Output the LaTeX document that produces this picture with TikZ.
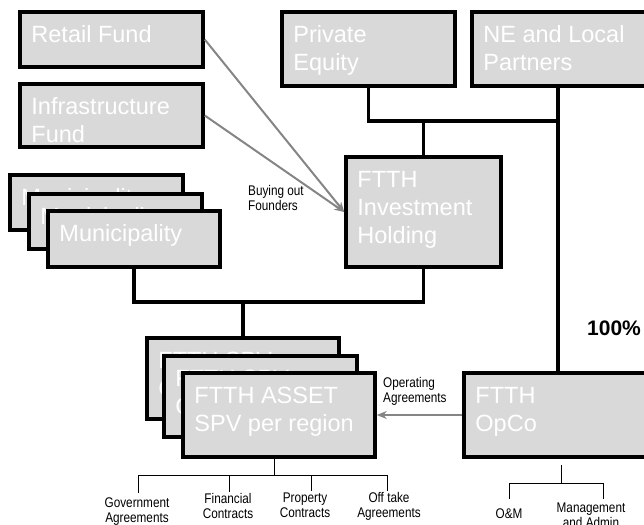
\documentclass[tikz,border=0pt]{standalone}
\usepackage{fontspec}
\setmainfont{Liberation Sans}
\newfontfamily\narrowfont[FakeStretch=0.84]{Liberation Sans}
\usetikzlibrary{fit,arrows.meta}
\definecolor{boxgray}{HTML}{D9D9D9}
\definecolor{arrgray}{HTML}{858585}
\tikzset{
  box/.style={draw=black, line width=3.5pt, fill=boxgray, inner sep=0pt},
  boxtext/.style={text=white, font=\fontsize{23.5}{28}\selectfont, align=left, inner sep=0pt, anchor=north west},
  conn/.style={line width=3.2pt},
  treeline/.style={line width=0.9pt},
  garrow/.style={draw=arrgray, line width=2pt, -{Stealth[length=10pt,width=8pt]}},
  small/.style={font=\narrowfont\fontsize{14}{15.5}\selectfont, inner sep=0pt},
}
\newcommand\mybx[6]{%
  \node[box, fit={(#2,#3) (#4,#5)}] (#1) {};
  \node[boxtext] (#1-t) at ([shift={(13,12)}]#1.north west) {\rule{0pt}{20pt}#6};}
\begin{document}
\begin{tikzpicture}[x=1pt,y=-1pt]
\useasboundingbox (0,0) rectangle (644,524);
\clip (0,0) rectangle (644,524);

% top boxes
\mybx{retail}{20}{12}{203}{67}{Retail Fund}
\mybx{infra}{20}{84}{203}{147}{Infrastructure\\Fund}
\mybx{pe}{282}{12}{455}{86}{Private\\Equity}
\mybx{ne}{472}{12}{652}{86}{NE and Local\\Partners}
\mybx{hold}{346}{157}{501}{267}{FTTH\\Investment\\Holding}

% municipality stack
\mybx{mun1}{10}{175}{183}{230}{Municipality}
\mybx{mun2}{29}{194}{202}{249}{Municipality}
\mybx{mun3}{48}{211}{220}{267}{Municipality}

% SPV stack
\mybx{spv1}{147}{338}{339}{419}{FTTH SPV\\City}
\mybx{spv2}{164}{356}{357}{437}{FTTH SPV\\City}
\mybx{spv3}{183}{373}{375}{457}{FTTH ASSET\\SPV per region}

% OpCo
\mybx{opco}{464}{373}{662}{457}{FTTH\\OpCo}

% thick connectors
\coordinate (nx) at (558,121);
\coordinate (jb) at (423,302);
\draw[conn] (pe.south) |- (nx);
\draw[conn] (hold.north) -- (hold.north |- nx);
\draw[conn] (nx |- ne.south) -- (nx |- opco.north);
\draw[conn] (hold.south) -- (hold.south |- jb) -| (mun3.south);
\draw[conn] (spv1.north) -- (spv1.north |- jb);

% gray arrows
\draw[garrow] (retail.east) -- (hold.west);
\draw[garrow] (infra.east) -- (hold.west);
\draw[garrow] (opco.west) -- (spv3.east);

% labels
\node[small, anchor=north west, align=left] (buy) at (248,184) {\rule{0pt}{11pt}Buying out\\Founders};
\node[small, anchor=north west, align=left] (opag) at (383,376) {\rule{0pt}{11pt}Operating\\Agreements};
\node[font=\bfseries\fontsize{21}{25}\selectfont, anchor=base west, inner sep=0pt] (pct) at (587,335) {100\%};

% SPV tree
\node[small, anchor=north, align=center] (gov) at (137,496) {\rule{0pt}{11pt}Government\\Agreements};
\node[small, anchor=north, align=center] (fin) at (228,492) {\rule{0pt}{11pt}Financial\\Contracts};
\node[small, anchor=north, align=center] (prop) at (305,491) {\rule{0pt}{11pt}Property\\Contracts};
\node[small, anchor=north, align=center] (off) at (389,491) {\rule{0pt}{11pt}Off take\\Agreements};
\coordinate (st) at (274,459);
\coordinate (sj) at (274,475);
\coordinate (s1) at (138,475);
\coordinate (s2) at (229,475);
\coordinate (s3) at (311,475);
\coordinate (s4) at (387,475);
\draw[treeline] (st) -- (sj);
\draw[treeline] (s1) -- (s4);
\draw[treeline] (s1) -- ++(0,18);
\draw[treeline] (s2) -- ++(0,17);
\draw[treeline] (s3) -- ++(0,16);
\draw[treeline] (s4) -- ++(0,16);

% OpCo tree
\node[small, anchor=north, align=center] (om) at (509,507) {\rule{0pt}{11pt}O\&M};
\node[small, anchor=north, align=center] (mgmt) at (591,501) {\rule{0pt}{11pt}Management\\and Admin};
\coordinate (ot) at (561,465);
\coordinate (oj) at (561,483);
\coordinate (o1) at (509,483);
\coordinate (o2) at (603,483);
\draw[treeline] (ot) -- (oj);
\draw[treeline] (o1) -- (o2);
\draw[treeline] (o1) -- ++(0,16);
\draw[treeline] (o2) -- ++(0,16);
\end{tikzpicture}
\end{document}
